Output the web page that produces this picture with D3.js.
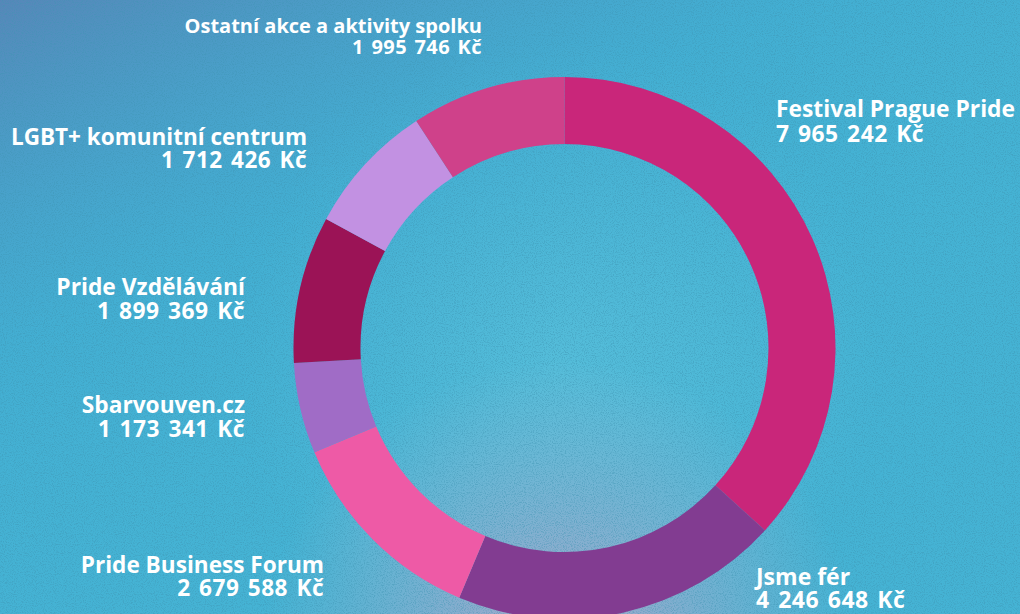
<!DOCTYPE html>
<html><head><meta charset="utf-8">
<script src="https://cdn.jsdelivr.net/npm/d3@7"></script>
<style>html,body{margin:0;padding:0;overflow:hidden;background:#45b3d4}svg{display:block}</style>
</head><body>
<script>
const categories = ["Festival Prague Pride","Jsme fér","Pride Business Forum","Sbarvouven.cz","Pride Vzdělávání","LGBT+ komunitní centrum","Ostatní akce a aktivity spolku"];
const values = [7965242,4246648,2679588,1173341,1899369,1712426,1995746];
const valueLabels = ["7 965 242 Kč","4 246 648 Kč","2 679 588 Kč","1 173 341 Kč","1 899 369 Kč","1 712 426 Kč","1 995 746 Kč"];
const colors = ["#c9267a","#823c91","#ee5aa6","#a06cc6","#9b1356","#c291e2","#cf418a"];
// label layout: [x, baseline line 1, baseline line 2, anchor, font size]
const labelLayout = [[776,117,142,"start",22.8],[756,585,608,"start",23],[324,573,596,"end",22.6],[245,413,437,"end",22.7],[245,295,319,"end",22.8],[307,145,168,"end",22.5],[482,33,54,"end",20]];

const W=1020,H=614;
const svg=d3.select("body").append("svg").attr("width",W).attr("height",H);
const defs=svg.append("defs");
const lg=defs.append("linearGradient").attr("id","tl").attr("x1","0").attr("y1","0").attr("x2","0.55").attr("y2","0.75");
lg.append("stop").attr("offset","0").attr("stop-color","#5a7fb4").attr("stop-opacity",0.85);
lg.append("stop").attr("offset","0.5").attr("stop-color","#3fa6cf").attr("stop-opacity",0.35);
lg.append("stop").attr("offset","1").attr("stop-color","#45b3d4").attr("stop-opacity",0);
const rg=defs.append("radialGradient").attr("id","pk").attr("gradientUnits","userSpaceOnUse").attr("cx",560).attr("cy",660).attr("r",300);
rg.append("stop").attr("offset","0").attr("stop-color","#c8a0c4").attr("stop-opacity",0.9);
rg.append("stop").attr("offset","0.5").attr("stop-color","#b0aacb").attr("stop-opacity",0.45);
rg.append("stop").attr("offset","1").attr("stop-color","#9fb8d0").attr("stop-opacity",0);
const rc=defs.append("radialGradient").attr("id","ct").attr("gradientUnits","userSpaceOnUse").attr("cx",560).attr("cy",360).attr("r",320);
rc.append("stop").attr("offset","0").attr("stop-color","#5ec3dd").attr("stop-opacity",0.7);
rc.append("stop").attr("offset","1").attr("stop-color","#5ec3dd").attr("stop-opacity",0);
const f=defs.append("filter").attr("id","noise").attr("x",0).attr("y",0).attr("width","100%").attr("height","100%");
f.append("feTurbulence").attr("type","fractalNoise").attr("baseFrequency",0.9).attr("numOctaves",2).attr("seed",3).attr("result","n");
f.append("feColorMatrix").attr("in","n").attr("type","matrix").attr("values","0 0 0 0 0.05  0 0 0 0 0.3  0 0 0 0 0.45  0 0 0 -3.5 1.9");

svg.append("rect").attr("width",W).attr("height",H).attr("fill","#45b3d4");
svg.append("rect").attr("width",W).attr("height",H).attr("fill","url(#ct)");
svg.append("rect").attr("width",W).attr("height",H).attr("fill","url(#tl)");
svg.append("rect").attr("width",W).attr("height",H).attr("fill","url(#pk)");
svg.append("rect").attr("width",W).attr("height",H).attr("filter","url(#noise)").attr("opacity",0.45);

const cx=564.5, cy=348, rOuter=271, rInner=204;
const pie=d3.pie().sort(null).value(d=>d);
const arc=d3.arc().innerRadius(rInner).outerRadius(rOuter);
const g=svg.append("g").attr("transform",`translate(${cx},${cy})`);
g.selectAll("path").data(pie(values)).join("path").attr("d",arc).attr("fill",(d,i)=>colors[i]);

const lbl=svg.append("g").attr("font-family","'Open Sans', Lato, sans-serif").attr("font-weight",700).attr("fill","#fff");
categories.forEach((c,i)=>{
  const [x,y1,y2,a,fs]=labelLayout[i];
  lbl.append("text").attr("x",x).attr("y",y1).attr("text-anchor",a).attr("font-size",fs).text(c);
  lbl.append("text").attr("x",x).attr("y",y2).attr("text-anchor",a).attr("font-size",fs)
     .attr("letter-spacing","0.022em").attr("word-spacing","0.09em").text(valueLabels[i]);
});
</script>
</body></html>
